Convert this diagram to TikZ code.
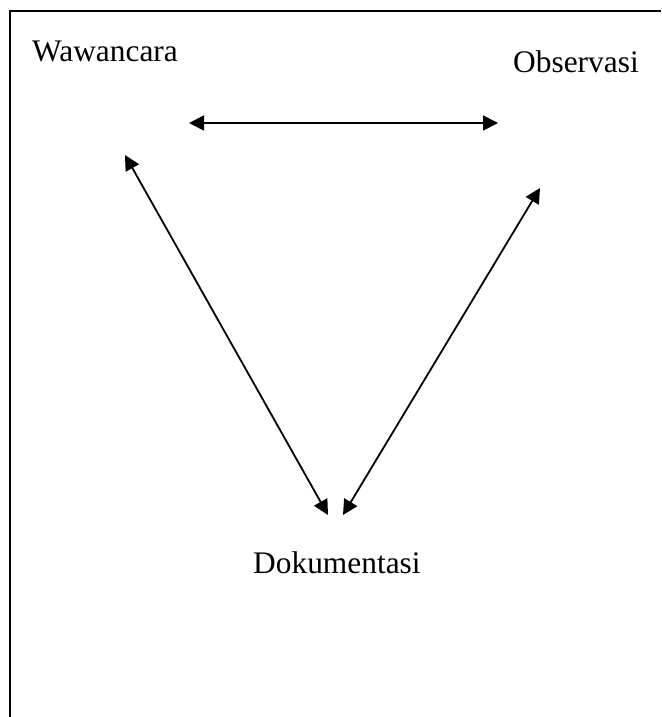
\documentclass[tikz,border=0pt]{standalone}
\usepackage{fontspec}
\setmainfont{Liberation Serif}
\usetikzlibrary{arrows.meta}
\begin{document}
\begin{tikzpicture}[x=1pt,y=-1pt,
  lbl/.style={inner sep=0pt,anchor=base west,font=\fontsize{31.4}{36}\selectfont},
  conn/.style={line width=1.8pt,{Triangle[length=15pt,width=15pt]}-{Triangle[length=15pt,width=15pt]}},
  frameline/.style={line width=2pt}]
\useasboundingbox (0,0) rectangle (661,717);
\draw[frameline] (10,717) -- (10,11) -- (661,11);
\node[lbl] (waw) at (32,62) {Wawancara};
\node[lbl] (obs) at (513,72) {Observasi};
\node[lbl] (dok) at (253,573) {Dokumentasi};
\coordinate (h1) at (189,123);
\coordinate (h2) at (498,123);
\coordinate (l1) at (125,155);
\coordinate (l2) at (328,515);
\coordinate (r1) at (540,188);
\coordinate (r2) at (343,515);
\draw[conn] (h1) -- (h2);
\draw[conn] (l1) -- (l2);
\draw[conn] (r1) -- (r2);
\end{tikzpicture}
\end{document}
